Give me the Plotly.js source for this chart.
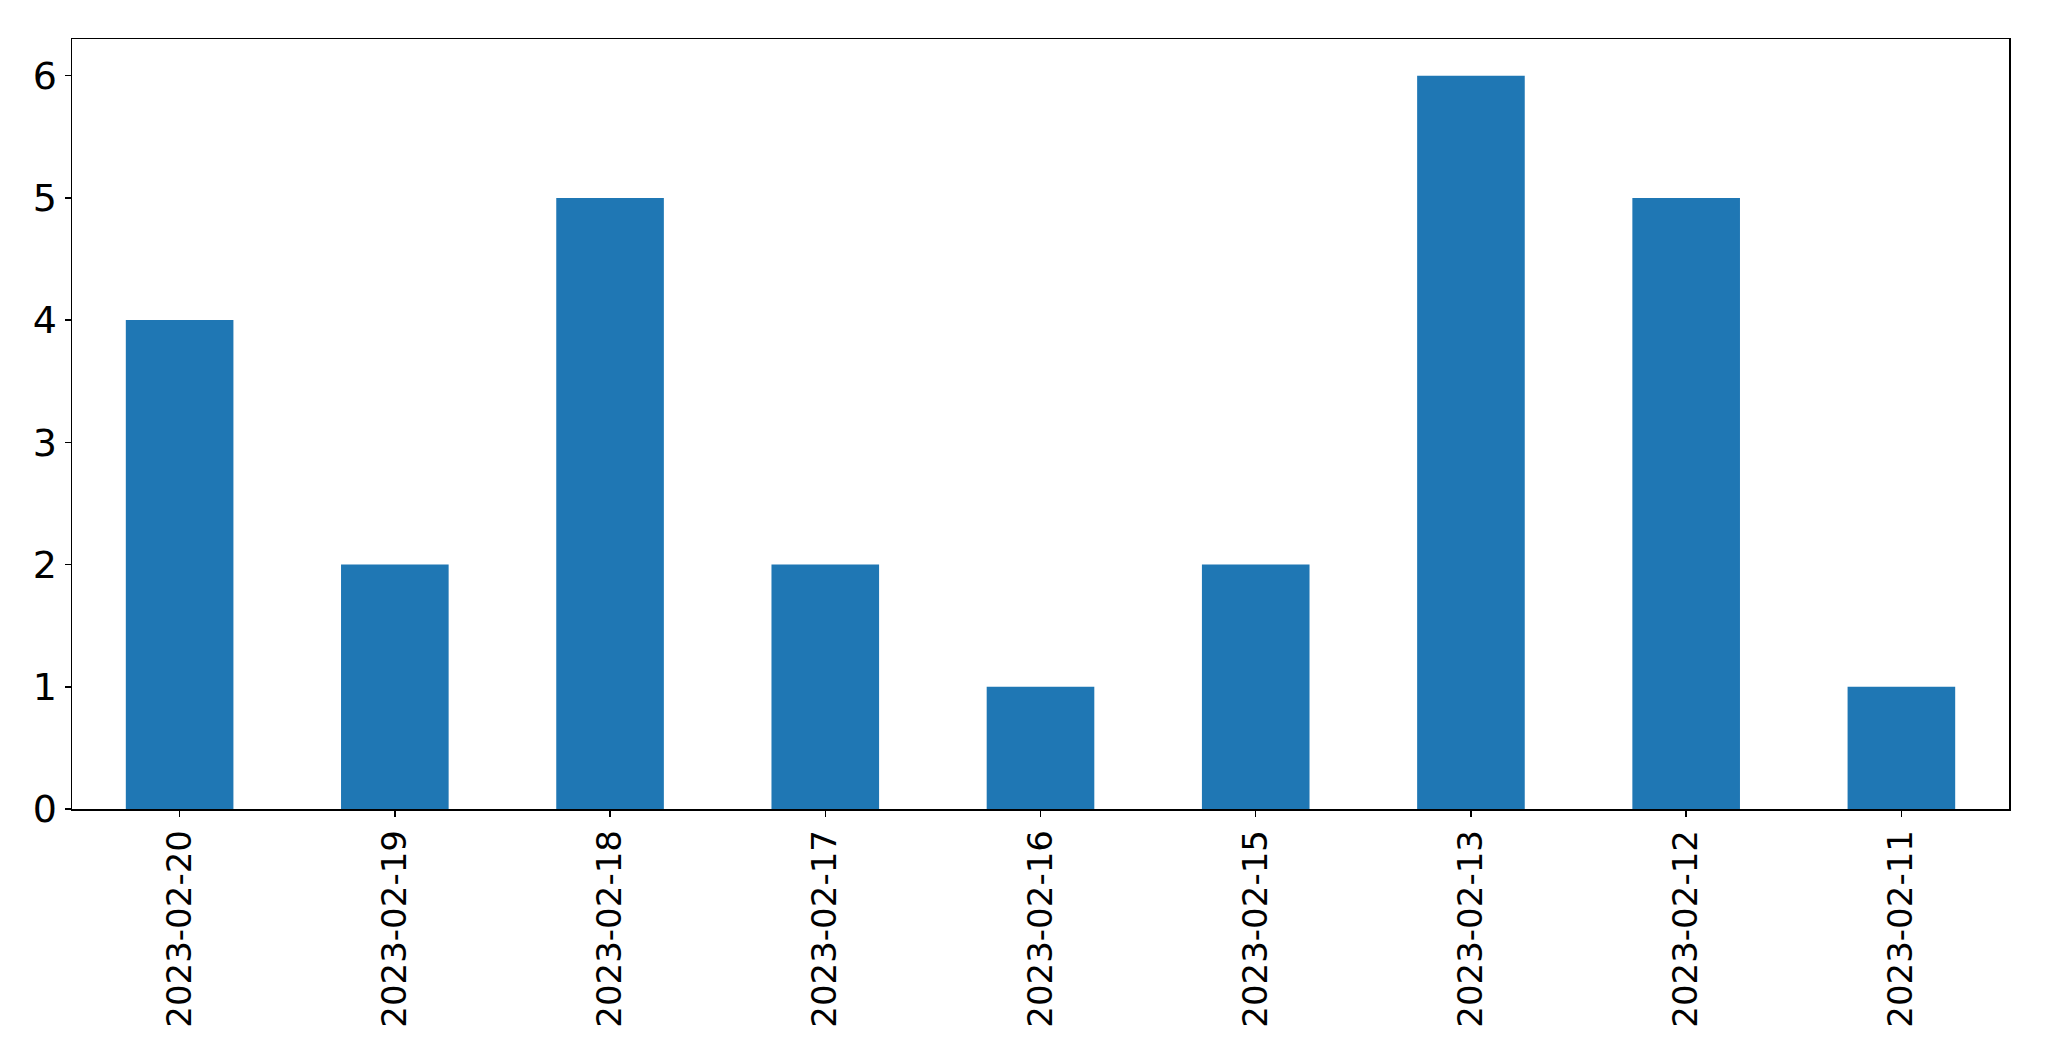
<!DOCTYPE html>
<html>
<head>
<meta charset="utf-8">
<script src="https://cdn.plot.ly/plotly-3.0.1.min.js"></script>
<style>html,body{margin:0;padding:0;background:#fff;}#chart{width:2049px;height:1061px;}</style>
</head>
<body>
<div id="chart"></div>
<script>
const categories = ["2023-02-20","2023-02-19","2023-02-18","2023-02-17","2023-02-16","2023-02-15","2023-02-13","2023-02-12","2023-02-11"];
const values = [4, 2, 5, 2, 1, 2, 6, 5, 1];
const yTicks = [0, 1, 2, 3, 4, 5, 6];

const trace = {
  type: 'bar',
  x: categories,
  y: values,
  width: 0.5,
  marker: {color: '#1f77b4', line: {width: 0}},
  hoverinfo: 'x+y'
};

const layout = {
  width: 2049,
  height: 1061,
  margin: {l: 72, r: 40, t: 39, b: 252, pad: 0},
  paper_bgcolor: '#ffffff',
  plot_bgcolor: '#ffffff',
  showlegend: false,
  font: {family: 'DejaVu Sans', size: 34, color: '#000000'},
  xaxis: {
    type: 'category',
    range: [-0.5, 8.5],
    tickangle: -90,
    ticks: 'outside',
    ticklen: 6,
    tickwidth: 1.5,
    tickcolor: '#000',
    showline: true,
    linecolor: '#000',
    linewidth: 1.5,
    mirror: true,
    showgrid: false,
    zeroline: false,
    tickfont: {family: 'DejaVu Sans', size: 34, color: '#000'}
  },
  yaxis: {
    range: [0, 6.3],
    tickvals: yTicks,
    ticktext: yTicks.map(String),
    ticks: 'outside',
    ticklen: 6,
    tickwidth: 1.5,
    tickcolor: '#000',
    showline: true,
    linecolor: '#000',
    linewidth: 1.5,
    mirror: true,
    showgrid: false,
    zeroline: false,
    tickfont: {family: 'DejaVu Sans', size: 38, color: '#000'}
  }
};

Plotly.newPlot('chart', [trace], layout, {displayModeBar: false, staticPlot: true});
</script>
</body>
</html>
